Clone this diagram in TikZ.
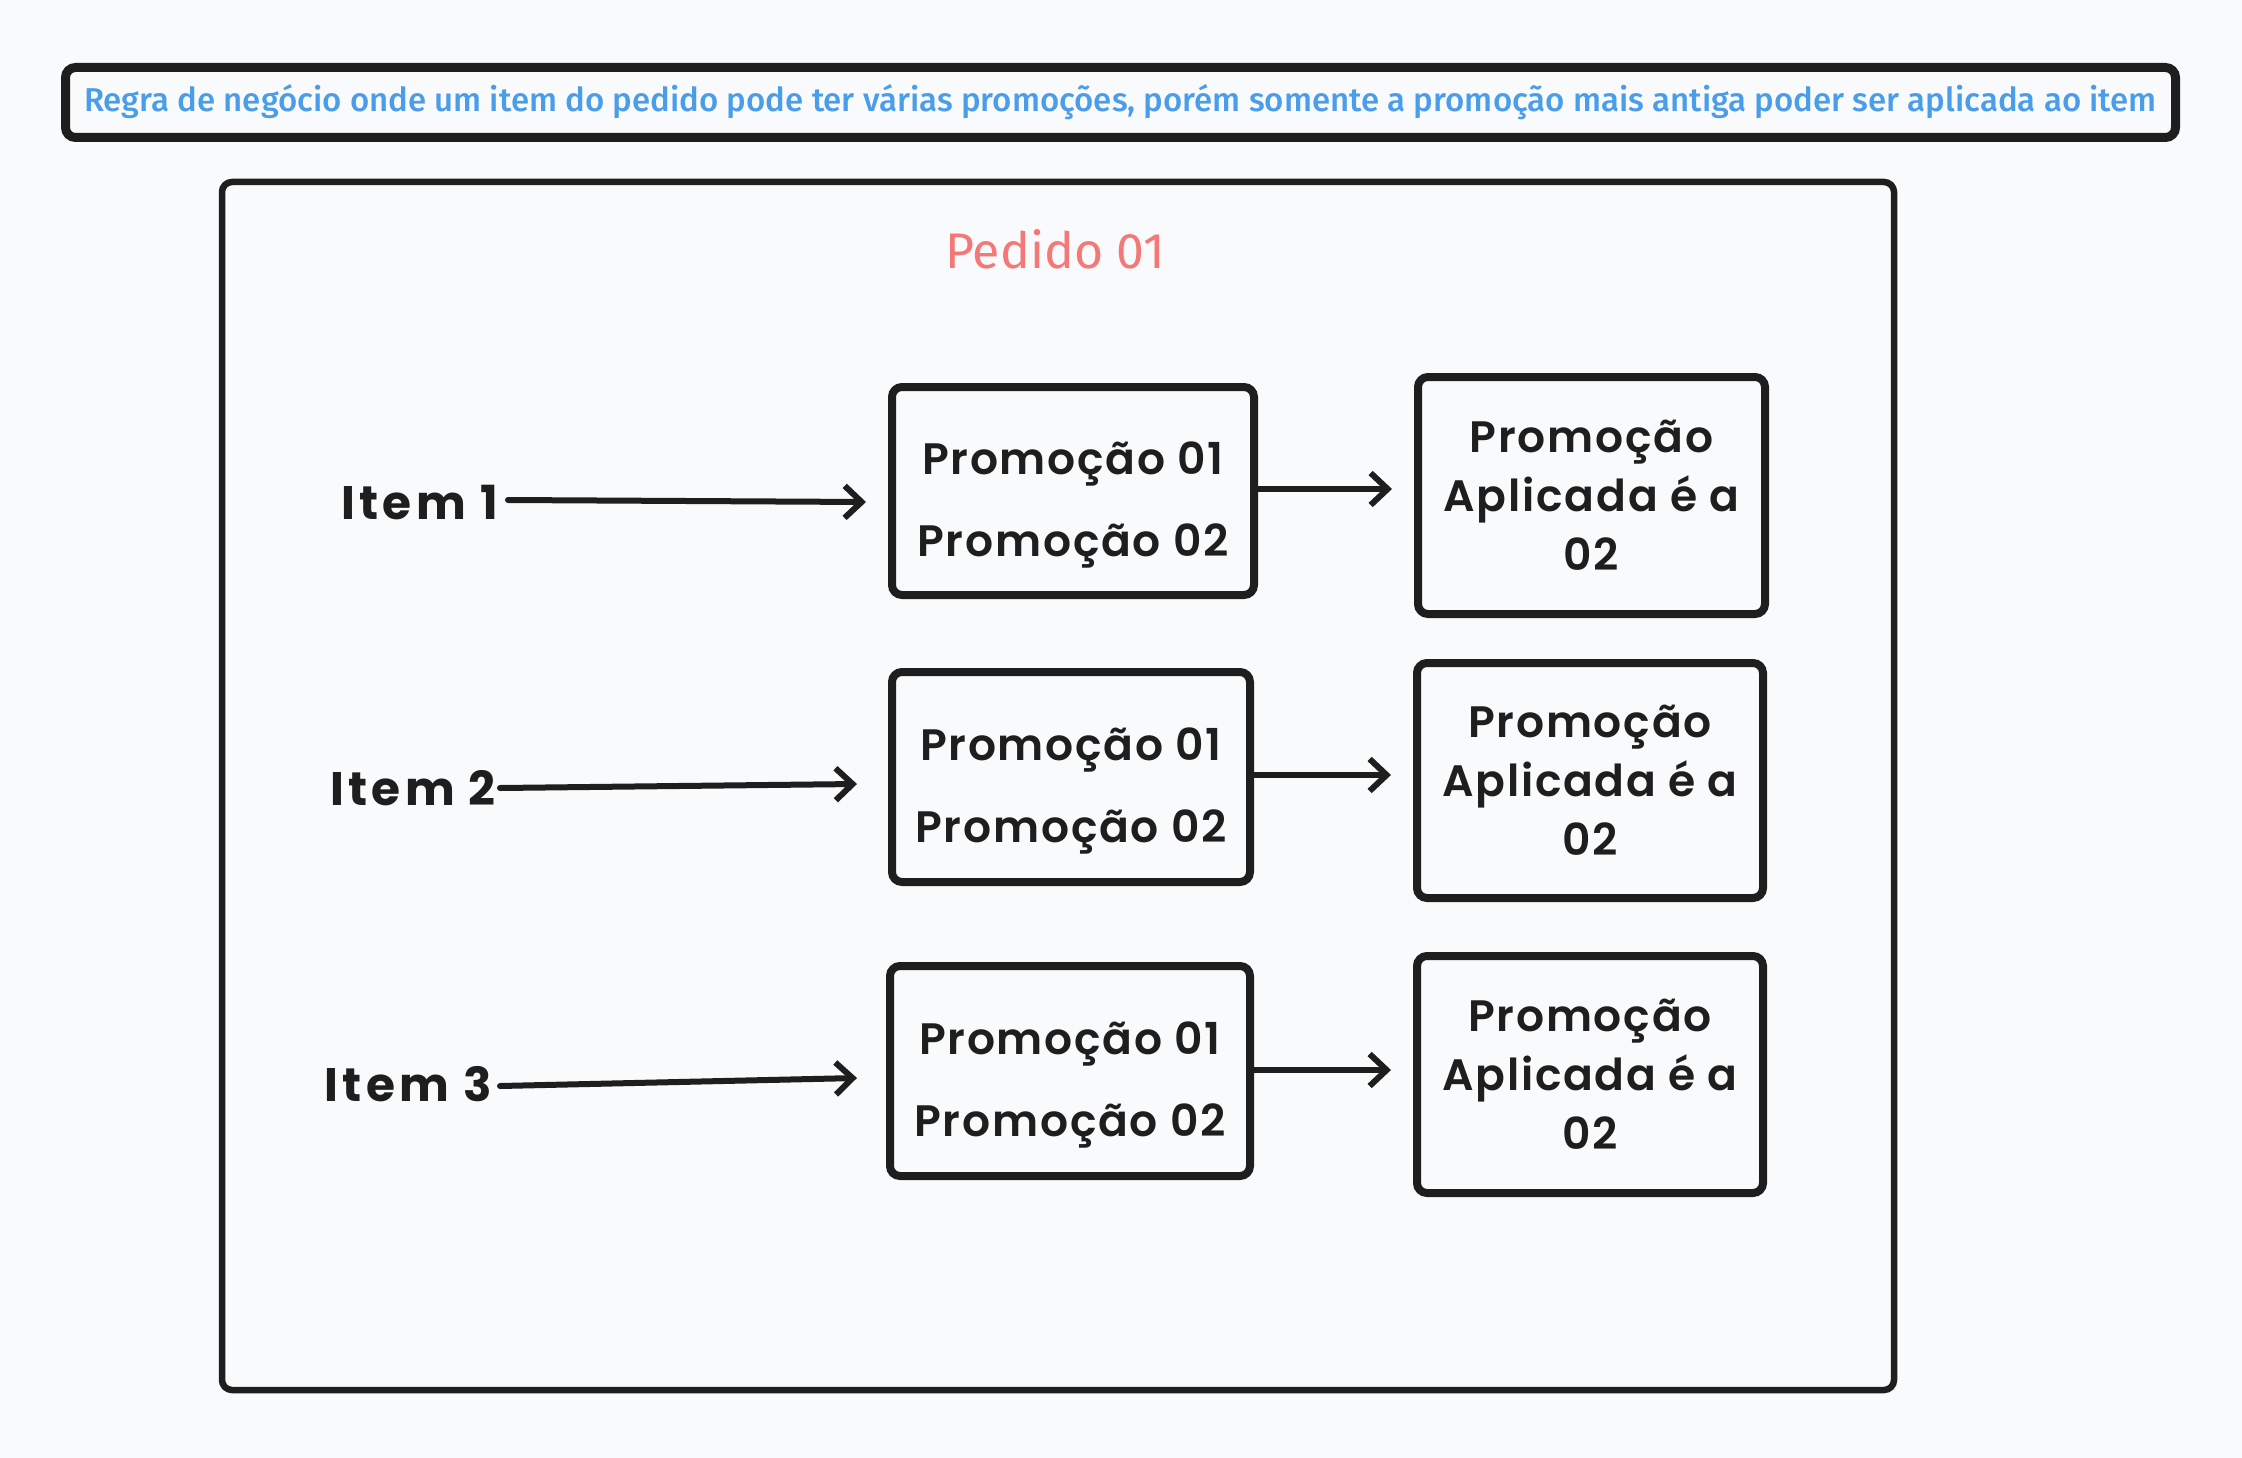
\documentclass[tikz,border=0pt]{standalone}
\usepackage{fontspec}
\setmainfont{Fira Sans}
\newfontfamily\handfont[LetterSpace=4]{Poppins SemiBold}
\newfontfamily\itemfont[LetterSpace=9]{Poppins Bold}
\newfontfamily\plexfont{Fira Sans Medium}
\newfontfamily\plexreg{Fira Sans}
\usetikzlibrary{arrows.meta}
\definecolor{bg}{HTML}{F9FAFB}
\definecolor{ink}{HTML}{1E1E1E}
\definecolor{titleblue}{HTML}{4A9DE8}
\definecolor{salmon}{HTML}{F47878}
\newcommand{\twolines}[2]{\raisebox{-8pt}[\height][\depth]{\begin{tabular}{@{}c@{}}#1\\#2\end{tabular}}}
\tikzset{
  frame/.style={draw=ink, line width=6.5pt, rounded corners=10pt},
  promobox/.style={draw=ink, line width=8pt, rounded corners=10pt, fill=bg, inner sep=0pt, align=center},
  handtext/.style={font=\handfont\fontsize{44}{82}\selectfont, text=ink, inner sep=0pt},
  itemtext/.style={font=\itemfont\fontsize{47}{82}\selectfont, text=ink, inner sep=0pt},
  arr/.style={draw=ink, line width=6pt, line cap=round, -{Straight Barb[length=17pt,width=32pt,line width=6pt]}},
}
\begin{document}
\begin{tikzpicture}[x=1pt,y=-1pt]
\fill[bg] (0,0) rectangle (2242,1458);
\useasboundingbox (0,0) rectangle (2242,1458);
% title
\node[draw=ink, line width=9pt, rounded corners=10pt, minimum width=2110pt, minimum height=70pt, inner sep=0pt] (title) at (1120.5,102.5)
  {\plexfont\fontsize{33}{40}\selectfont\color{titleblue}Regra de negócio onde um item do pedido pode ter várias promoções, porém somente a promoção mais antiga poder ser aplicada ao item};
% big frame
\node[frame, minimum width=1672pt, minimum height=1208pt] (pedido) at (1058,786) {};
\node[font=\plexreg\fontsize{50}{56}\selectfont, text=salmon, inner sep=0pt] (ped) at (1055,249) {Pedido 01};
% middle boxes
\node[promobox, handtext, minimum width=362pt, minimum height=208pt] (m1) at (1073,491) {\twolines{Promoção 01}{Promoção 02}};
\node[promobox, handtext, minimum width=358pt, minimum height=210pt] (m2) at (1071,777) {\twolines{Promoção 01}{Promoção 02}};
\node[promobox, handtext, minimum width=360pt, minimum height=210pt] (m3) at (1070,1071) {\twolines{Promoção 01}{Promoção 02}};
% right boxes
\node[promobox, handtext, font=\handfont\fontsize{44}{59}\selectfont, minimum width=347pt, minimum height=237pt] (r1) at (1591.5,495.5) {Promoção\\Aplicada é a\\02};
\node[promobox, handtext, font=\handfont\fontsize{44}{59}\selectfont, minimum width=346pt, minimum height=235pt] (r2) at (1590,780.5) {Promoção\\Aplicada é a\\02};
\node[promobox, handtext, font=\handfont\fontsize{44}{59}\selectfont, minimum width=346pt, minimum height=237pt] (r3) at (1590,1074.5) {Promoção\\Aplicada é a\\02};
% items
\node[itemtext, anchor=east] (i1) at (498,503) {Item 1};
\node[itemtext, anchor=east] (i2) at (496,788) {Item 2};
\node[itemtext, anchor=east] (i3) at (492,1084) {Item 3};
\coordinate (e1) at (866,502);
\coordinate (e2) at (857,784);
\coordinate (e3) at (857,1078);
\draw[arr] ([xshift=10pt,yshift=3pt]i1.east) -- (e1);
\draw[arr] ([xshift=4pt]i2.east) -- (e2);
\draw[arr] ([xshift=8pt,yshift=-2pt]i3.east) -- (e3);
\draw[arr, shorten >=22pt] ([yshift=2pt]m1.east) -- ([yshift=2pt]m1.east -| r1.west);
\draw[arr, shorten >=22pt] ([yshift=2pt]m2.east) -- ([yshift=2pt]m2.east -| r2.west);
\draw[arr, shorten >=22pt] ([yshift=1pt]m3.east) -- ([yshift=1pt]m3.east -| r3.west);
\end{tikzpicture}
\end{document}
